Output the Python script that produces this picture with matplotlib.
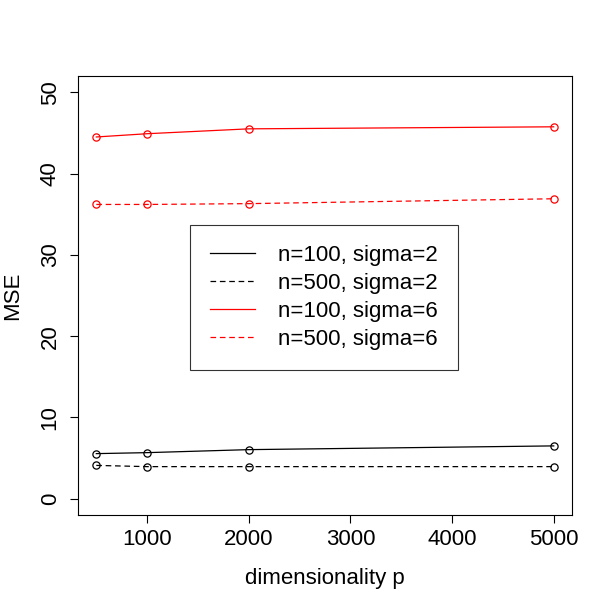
import matplotlib
matplotlib.use("Agg")
import matplotlib.pyplot as plt

p = [500, 1000, 2000, 5000]
n100_s2 = [5.55, 5.67, 6.04, 6.5]
n500_s2 = [4.1, 3.95, 3.95, 3.95]
n100_s6 = [44.5, 44.9, 45.5, 45.75]
n500_s6 = [36.2, 36.2, 36.3, 36.9]
labels = ["n=100, sigma=2", "n=500, sigma=2", "n=100, sigma=6", "n=500, sigma=6"]

plt.rcParams['font.family'] = ['Liberation Sans', 'DejaVu Sans']
fig = plt.figure(figsize=(6.12, 6.12), dpi=100)
W = H = 612
ax = fig.add_axes([78/W, 1-515/H, (572-78)/W, (515-76)/H])

lw = 0.9
dash = (4.5, 3)
mk = dict(marker='o', markersize=5.2, markerfacecolor='none', markeredgewidth=0.9)
series = [(n100_s2, 'black', '-'), (n500_s2, 'black', '--'),
          (n100_s6, 'red', '-'), (n500_s6, 'red', '--')]
handles = []
for (vals, c, ls), lab in zip(series, labels):
    kw = dict(dashes=dash) if ls == '--' else {}
    ax.plot(p, vals, color=c, linestyle=ls, linewidth=lw, **kw, **mk)
    h, = ax.plot([], [], color=c, linestyle=ls, linewidth=lw, **kw, label=lab)
    handles.append(h)

ax.set_xlim(320, 5180)
ax.set_ylim(-2, 52)
ax.set_xticks([1000, 2000, 3000, 4000, 5000])
ax.set_yticks([0, 10, 20, 30, 40, 50])
ax.tick_params(labelsize=16, length=5.5, width=0.8)
ax.tick_params(axis='x', pad=4.5)
ax.tick_params(axis='y', pad=7)
for lab in ax.get_yticklabels():
    lab.set_rotation(90)
    lab.set_va('center')
for s in ax.spines.values():
    s.set_linewidth(0.8)
ax.set_xlabel("dimensionality p", fontsize=16, labelpad=13)
ax.set_ylabel("MSE", fontsize=16, labelpad=12)

leg = ax.legend(handles=handles, loc='upper left', bbox_to_anchor=(0.227, 0.661),
                fontsize=16, frameon=True, fancybox=False, edgecolor='black',
                handlelength=2.0, handletextpad=1.05, borderpad=0.9, labelspacing=0.32,
                borderaxespad=0)
leg.get_frame().set_linewidth(0.8)

fig.savefig("out.png", dpi=100)
